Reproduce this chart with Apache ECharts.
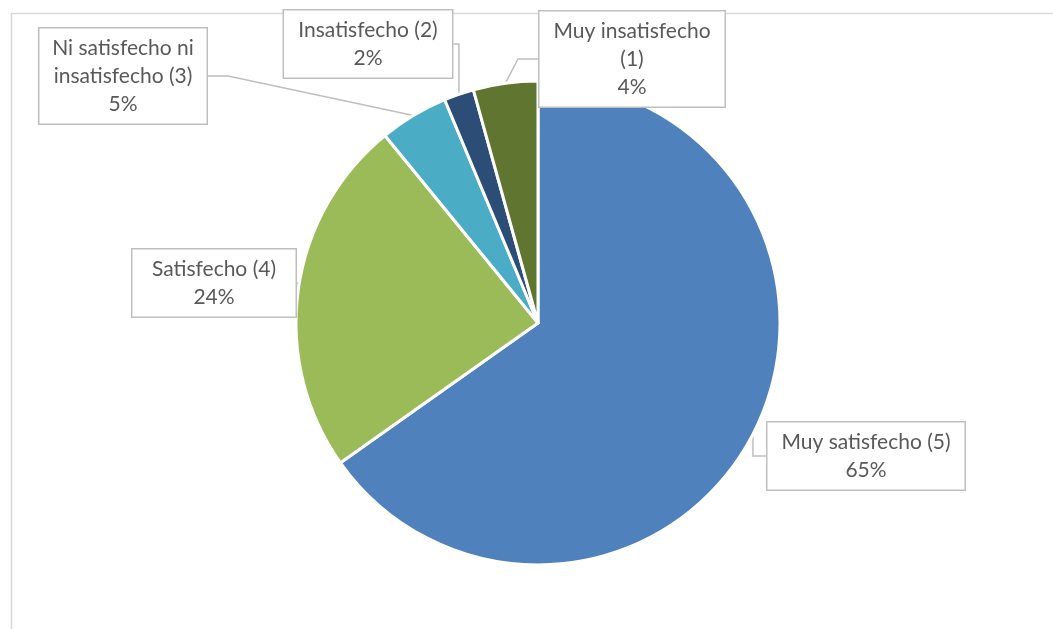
<!DOCTYPE html>
<html>
<head>
<meta charset="utf-8">
<script src="https://cdn.jsdelivr.net/npm/echarts@6/dist/echarts.min.js"></script>
<style>
  html, body { margin: 0; padding: 0; background: #ffffff; }
  #chart { width: 1053px; height: 629px; }
</style>
</head>
<body>
<div id="chart"></div>
<script>
// Survey satisfaction levels, clockwise from 12 o'clock
const categories = [
  'Muy satisfecho (5)',
  'Satisfecho (4)',
  'Ni satisfecho ni\ninsatisfecho (3)',
  'Insatisfecho (2)',
  'Muy insatisfecho\n(1)'
];
const shares = [65.2, 23.9, 4.6, 2.0, 4.3];
const sliceColors = ['#4F81BD', '#9BBB59', '#4BACC6', '#2C4D75', '#5F7530'];

// Callout boxes: centre x, centre y, text width
const calloutLayout = [
  [866, 456, 177],
  [214, 283, 143],
  [123, 76, 147],
  [368, 44, 148],
  [632, 59, 165]
];

const seriesData = categories.map((name, i) => ({
  name: name,
  value: shares[i],
  itemStyle: { color: sliceColors[i] },
  label: { width: calloutLayout[i][2] }
}));

const chart = echarts.init(document.getElementById('chart'), null, { renderer: 'canvas' });
chart.setOption({
  backgroundColor: '#ffffff',
  animation: false,
  graphic: [{
    type: 'rect',
    left: 9, top: 11,
    shape: { x: 0, y: 0, width: 1060, height: 660 },
    style: { fill: 'none', stroke: '#D9D9D9', lineWidth: 1.5 },
    silent: true,
    z: -1
  }],
  series: [{
    type: 'pie',
    center: [538, 323],
    radius: [0, 242],
    startAngle: 90,
    clockwise: true,
    data: seriesData,
    itemStyle: { borderColor: '#ffffff', borderWidth: 3 },
    label: {
      show: true,
      position: 'outside',
      formatter: p => p.name + '\n' + Math.round(p.percent) + '%',
      fontFamily: 'Lato',
      fontSize: 21,
      color: '#595959',
      lineHeight: 28,
      align: 'center',
      backgroundColor: '#ffffff',
      borderColor: '#BFBFBF',
      borderWidth: 1.5,
      padding: [6, 10, 5, 10]
    },
    labelLine: {
      show: true,
      length: 20,
      length2: 20,
      lineStyle: { color: '#BFBFBF', width: 1.5 }
    },
    labelLayout: function (params) {
      const c = calloutLayout[params.dataIndex];
      return { x: c[0], y: c[1], align: 'center', verticalAlign: 'middle' };
    }
  }]
});
</script>
</body>
</html>
